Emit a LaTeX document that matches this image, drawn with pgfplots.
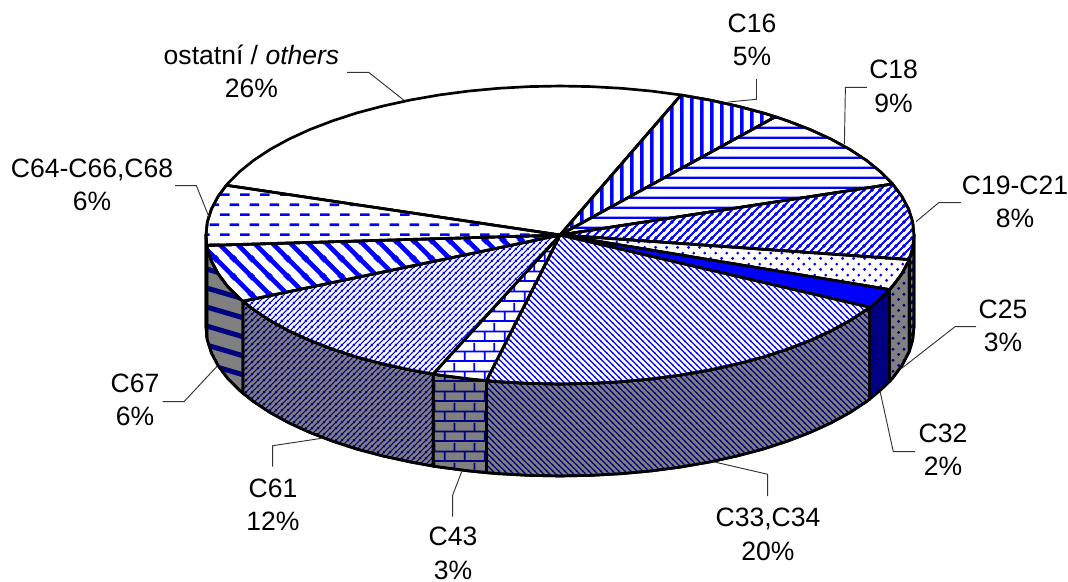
\documentclass[border=0pt]{standalone}
\usepackage{fontspec}
\setmainfont{Liberation Sans}
\usepackage{pgfplots}
\pgfplotsset{compat=1.18}
\usetikzlibrary{patterns}

% tiles: 1 px of the reference = 0.75pt
\pgfdeclarepatternformonly{vstripe}{\pgfpointorigin}{\pgfqpoint{7.5pt}{7.5pt}}{\pgfqpoint{7.5pt}{7.5pt}}{%
  \pgfpathrectangle{\pgfqpoint{0pt}{-2pt}}{\pgfqpoint{3pt}{11.5pt}}\pgfusepath{fill}}
\pgfdeclarepatternformonly{hstripe}{\pgfpointorigin}{\pgfqpoint{7.8pt}{7.8pt}}{\pgfqpoint{7.8pt}{7.8pt}}{%
  \pgfpathrectangle{\pgfqpoint{-2pt}{0pt}}{\pgfqpoint{11.8pt}{1.9pt}}\pgfusepath{fill}}
\newcommand{\updiag}[3]{%
  \pgfdeclarepatternformonly{#1}{\pgfpointorigin}{\pgfqpoint{#2}{#2}}{\pgfqpoint{#2}{#2}}{%
    \pgfsetlinewidth{#3}%
    \pgfmathsetlengthmacro{\ts}{#2}%
    \pgfpathmoveto{\pgfqpoint{-1pt}{-1pt}}\pgfpathlineto{\pgfpoint{\ts+1pt}{\ts+1pt}}%
    \pgfpathmoveto{\pgfpoint{-3pt}{\ts-3pt}}\pgfpathlineto{\pgfpoint{3pt}{\ts+3pt}}%
    \pgfpathmoveto{\pgfpoint{\ts-3pt}{-3pt}}\pgfpathlineto{\pgfpoint{\ts+3pt}{3pt}}%
    \pgfusepath{stroke}}}
\newcommand{\downdiag}[3]{%
  \pgfdeclarepatternformonly{#1}{\pgfpointorigin}{\pgfqpoint{#2}{#2}}{\pgfqpoint{#2}{#2}}{%
    \pgfsetlinewidth{#3}%
    \pgfmathsetlengthmacro{\ts}{#2}%
    \pgfpathmoveto{\pgfpoint{-1pt}{\ts+1pt}}\pgfpathlineto{\pgfpoint{\ts+1pt}{-1pt}}%
    \pgfpathmoveto{\pgfpoint{-3pt}{3pt}}\pgfpathlineto{\pgfpoint{3pt}{-3pt}}%
    \pgfpathmoveto{\pgfpoint{\ts-3pt}{\ts+3pt}}\pgfpathlineto{\pgfpoint{\ts+3pt}{\ts-3pt}}%
    \pgfusepath{stroke}}}
\updiag{upwide}{6pt}{1.6pt}
\updiag{upfine}{4.2pt}{0.85pt}
\downdiag{downfine}{4.4pt}{0.85pt}
\downdiag{downwide}{13.5pt}{3.6pt}
\pgfdeclarepatternformonly{shallow}{\pgfpointorigin}{\pgfqpoint{47pt}{14pt}}{\pgfqpoint{47pt}{14pt}}{%
  \pgfsetlinewidth{3.8pt}%
  \pgfpathmoveto{\pgfqpoint{-5pt}{15.5pt}}\pgfpathlineto{\pgfqpoint{52pt}{-1.5pt}}%
  \pgfpathmoveto{\pgfqpoint{-52pt}{15.5pt}}\pgfpathlineto{\pgfqpoint{5pt}{-1.5pt}}%
  \pgfpathmoveto{\pgfqpoint{42pt}{15.5pt}}\pgfpathlineto{\pgfqpoint{99pt}{-1.5pt}}%
  \pgfusepath{stroke}}
\pgfdeclarepatternformonly{dashrows}{\pgfpointorigin}{\pgfqpoint{15pt}{15.3pt}}{\pgfqpoint{15pt}{15.3pt}}{%
  \pgfpathrectangle{\pgfpointorigin}{\pgfqpoint{7.5pt}{2pt}}%
  \pgfpathrectangle{\pgfqpoint{7.5pt}{7.65pt}}{\pgfqpoint{7.5pt}{2pt}}\pgfusepath{fill}}
\pgfdeclarepatternformonly{pdots}{\pgfpointorigin}{\pgfqpoint{8pt}{8pt}}{\pgfqpoint{8pt}{8pt}}{%
  \pgfpathcircle{\pgfqpoint{2pt}{2pt}}{1.2pt}%
  \pgfpathcircle{\pgfqpoint{6pt}{6pt}}{1.2pt}\pgfusepath{fill}}
\pgfdeclarepatternformonly{pbricks}{\pgfpointorigin}{\pgfqpoint{15pt}{15pt}}{\pgfqpoint{15pt}{15pt}}{%
  \pgfpathrectangle{\pgfqpoint{-1pt}{0pt}}{\pgfqpoint{17pt}{1.4pt}}%
  \pgfpathrectangle{\pgfqpoint{-1pt}{7.5pt}}{\pgfqpoint{17pt}{1.4pt}}%
  \pgfpathrectangle{\pgfqpoint{3pt}{0pt}}{\pgfqpoint{1.4pt}{7.5pt}}%
  \pgfpathrectangle{\pgfqpoint{10.5pt}{7.5pt}}{\pgfqpoint{1.4pt}{7.5pt}}\pgfusepath{fill}}

\definecolor{sidegray}{HTML}{808080}
\definecolor{sidenavy}{HTML}{000080}
\definecolor{topblue}{HTML}{0000FF}

\tikzset{
    wall/.style={pattern=#1, pattern color=sidenavy, preaction={fill=sidegray}},
    face/.style={pattern=#1, pattern color=topblue, preaction={fill=white}},
    lead/.style={line width=0.7pt, draw=black!80, line join=miter},
    lab/.style={align=center, inner sep=0pt, font=\fontsize{19.9}{25}\selectfont},
}

\begin{document}
\begin{tikzpicture}
\begin{axis}[
    scale only axis,
    width=801pt,
    height=436.5pt,
    xmin=0, xmax=1068,
    ymin=0, ymax=582,
    y dir=reverse,
    hide axis,
    clip=false,
    no markers,
    every axis plot/.append style={line join=round, line width=2pt, draw=black},
]
% side walls, front part of the disc
\addplot[wall=upwide] coordinates {(914,235)(912.7,248)(909.2,259.6)(909.2,351.6)(912.7,340)(914,327)} --cycle;
\addplot[wall=pdots] coordinates {(909.2,259.6)(901.9,273.6)(892.7,286)(889.4,289.6)(889.4,381.6)(892.7,378)(901.9,365.6)(909.2,351.6)} --cycle;
\addplot[fill=sidenavy] coordinates {(889.4,289.6)(880.8,298)(869.6,307.2)(869.6,399.2)(880.8,390)(889.4,381.6)} --cycle;
\addplot[wall=downfine] coordinates {(869.6,307.2)(866.6,309.5)(850,320.5)(831.2,330.8)(810.3,340.4)(787.6,349.1)(763.1,357.1)(737,364)(709.6,370)(681.1,375)(651.6,378.9)(621.5,381.7)(590.9,383.4)(560,384)(529.1,383.4)(498.5,381.7)(486.4,380.7)
  (486.4,472.7)(498.5,473.7)(529.1,475.4)(560,476)(590.9,475.4)(621.5,473.7)(651.6,470.9)(681.1,467)(709.6,462)(737,456)(763.1,449.1)(787.6,441.1)(810.3,432.4)(831.2,422.8)(850,412.5)(866.6,401.5)(869.6,399.2)} --cycle;
\addplot[wall=pbricks] coordinates {(486.4,380.7)(468.4,378.9)(438.9,375)(433.1,374.1)(433.1,466.1)(438.9,467)(468.4,470.9)(486.4,472.7)} --cycle;
\addplot[wall=upfine] coordinates {(433.1,374.1)(410.4,370)(383,364)(356.9,357.1)(332.4,349.1)(309.7,340.4)(288.8,330.8)(270,320.5)(253.4,309.5)(242.9,301.2)
  (242.9,393.2)(253.4,401.5)(270,412.5)(288.8,422.8)(309.7,432.4)(332.4,441.1)(356.9,449.1)(383,456)(410.4,462)(433.1,466.1)} --cycle;
\addplot[wall=shallow] coordinates {(242.9,301.2)(239.2,298)(227.3,286)(218.1,273.6)(211.4,260.9)(207.3,248)(206.9,245.4)(206.9,337.4)(207.3,340)(211.4,352.9)(218.1,365.6)(227.3,378)(239.2,390)(242.9,393.2)} --cycle;
\addplot[wall=dashrows] coordinates {(206.9,245.4)(206,235)(206,327)(206.9,337.4)} --cycle;

% top of the disc
\addplot[fill=white] coordinates {(560,235)(681.1,95)(651.6,91.1)(621.5,88.3)(590.9,86.6)(560,86)(529.1,86.6)(498.5,88.3)(468.4,91.1)(438.9,95)(410.4,100)(383,106)(356.9,112.9)(332.4,120.9)(309.7,129.6)(288.8,139.2)(270,149.5)(253.4,160.5)(239.2,172)(227.3,184)(226.3,185.3)} --cycle; % others 26
\addplot[face=vstripe] coordinates {(560,235)(775.5,116.8)(763.1,112.9)(737,106)(709.6,100)(681.1,95)} --cycle; % C16 5
\addplot[face=hstripe] coordinates {(560,235)(892.7,184)(880.8,172)(866.6,160.5)(850,149.5)(831.2,139.2)(810.3,129.6)(787.6,120.9)(775.5,116.8)} --cycle; % C18 9
\addplot[face=upwide] coordinates {(560,235)(909.2,259.6)(912.7,248)(914,235)(912.7,222)(908.6,209.1)(901.9,196.4)(892.7,184)} --cycle; % C19-C21 8
\addplot[face=pdots] coordinates {(560,235)(889.4,289.6)(892.7,286)(901.9,273.6)(908.6,260.9)(909.2,259.6)} --cycle; % C25 3
\addplot[fill=topblue] coordinates {(560,235)(869.6,307.2)(880.8,298)(889.4,289.6)} --cycle; % C32 2
\addplot[face=downfine] coordinates {(560,235)(486.4,380.7)(498.5,381.7)(529.1,383.4)(560,384)(590.9,383.4)(621.5,381.7)(651.6,378.9)(681.1,375)(709.6,370)(737,364)(763.1,357.1)(787.6,349.1)(810.3,340.4)(831.2,330.8)(850,320.5)(866.6,309.5)(869.6,307.2)} --cycle; % C33,C34 20
\addplot[face=pbricks] coordinates {(560,235)(433.1,374.1)(438.9,375)(468.4,378.9)(486.4,380.7)} --cycle; % C43 3
\addplot[face=upfine] coordinates {(560,235)(242.9,301.2)(253.4,309.5)(270,320.5)(288.8,330.8)(309.7,340.4)(332.4,349.1)(356.9,357.1)(383,364)(410.4,370)(433.1,374.1)} --cycle; % C61 12
\addplot[face=downwide] coordinates {(560,235)(206.9,245.4)(207.3,248)(211.4,260.9)(218.1,273.6)(227.3,286)(239.2,298)(242.9,301.2)} --cycle; % C67 6
\addplot[face=dashrows] coordinates {(560,235)(226.3,185.3)(218.1,196.4)(211.4,209.1)(207.3,222)(206,235)(206.9,245.4)} --cycle; % C64-C66,C68 6

% leader lines
\addplot[lead] coordinates {(728.3,102)(756.5,99.3)(756.5,79)};
\addplot[lead] coordinates {(844.4,144)(845.4,87.3)(866.8,87.3)};
\addplot[lead] coordinates {(916,221.7)(938.7,202.7)(960.8,202.7)};
\addplot[lead] coordinates {(347,72.3)(368.6,72.3)(403.6,100)};
\addplot[lead] coordinates {(175,185.7)(196.4,185.7)(208.9,216.7)};
\addplot[lead] coordinates {(162.7,401.7)(184,401.7)(217.3,366)};
\addplot[lead] coordinates {(272.7,466.7)(272.7,445.7)(321.7,438.3)};
\addplot[lead] coordinates {(452.7,516.7)(452.7,495)(461.7,471.7)};
\addplot[lead] coordinates {(767.7,496)(767.7,474.3)(713.3,461.7)};
\addplot[lead] coordinates {(915,451.7)(893.3,451.7)(880,391)};
\addplot[lead] coordinates {(976,326.7)(955,326.7)(901.7,368.3)};

% labels
\node[lab] at (axis cs:752,40) {C16\\5\%};
\node[lab] at (axis cs:893.6,86.5) {C18\\9\%};
\node[lab] at (axis cs:1015,202) {C19-C21\\8\%};
\node[lab] at (axis cs:251.5,71.5) {ostatní / \textit{others}\\26\%};
\node[lab] at (axis cs:92,185) {C64-C66,C68\\6\%};
\node[lab] at (axis cs:135,400) {C67\\6\%};
\node[lab] at (axis cs:273,504.5) {C61\\12\%};
\node[lab] at (axis cs:453,553.5) {C43\\3\%};
\node[lab] at (axis cs:768,534.5) {C33,C34\\20\%};
\node[lab] at (axis cs:943,450) {C32\\2\%};
\node[lab] at (axis cs:1003,326) {C25\\3\%};
\end{axis}
\pgfresetboundingbox
\path[use as bounding box] (current axis.south west) rectangle (current axis.north east);
\end{tikzpicture}
\end{document}
